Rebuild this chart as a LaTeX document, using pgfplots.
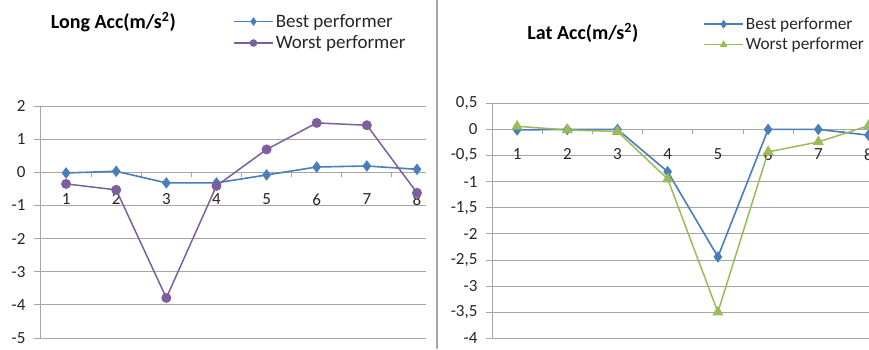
\documentclass[border=0pt]{standalone}
\usepackage{fontspec}
\setmainfont{Carlito}
\usepackage{pgfplots}
\pgfplotsset{compat=1.18}

\definecolor{bestblue}{HTML}{4A7EBB}
\definecolor{worstpurple}{HTML}{7D5FA0}
\definecolor{worstgreen}{HTML}{9BBB59}
\definecolor{gridgray}{HTML}{A6A6A6}
\definecolor{textgray}{HTML}{262626}

\pgfplotsset{
  excelpanel/.style={
    scale only axis,
    anchor=south west,
    axis y line=left,
    axis x line=middle,
    axis line style={-, draw=gridgray, line width=0.9pt},
    ymajorgrids,
    grid style={draw=gridgray, line width=0.9pt},
    xtick={1,...,8},
    minor xtick={1.5,2.5,...,7.5},
    major x tick style={draw=none},
    minor x tick style={draw=gridgray, line width=0.9pt},
    y tick style={draw=gridgray, line width=0.9pt},
    tick align=outside,
    major tick length=6pt,
    minor tick length=5pt,
    /pgf/number format/assume math mode=true,
    tick label style={font=\fontsize{17}{20}\selectfont, text=textgray},
    xticklabel style={anchor=north, yshift=-10pt},
    yticklabel style={anchor=east, xshift=-5pt},
    legend cell align=left,
    legend image code/.code={
      \draw[#1, mark=none] (0pt,0pt) -- (39pt,0pt);
      \path[#1, mark size=3pt] plot coordinates {(19.5pt,0pt)};
    },
    legend style={draw=none, fill=none, inner sep=0pt, anchor=north west,
      text=textgray, nodes={inner sep=2pt}},
    title style={font=\fontsize{20}{23}\selectfont\bfseries, text=black, anchor=center},
  },
  bestline/.style={color=bestblue, line width=1.6pt, mark=diamond*, mark size=4.5pt,
    mark options={solid}},
}

\begin{document}
\begin{tikzpicture}
\useasboundingbox (0pt,0pt) rectangle (869pt,349pt);

% longitudinal acceleration
\begin{axis}[excelpanel,
  at={(40pt,11pt)}, width=386pt, height=232pt,
  xmin=0.48, xmax=8.18, ymin=-5, ymax=2,
  ytick={-5,...,2},
  xticklabel style={yshift=-2pt},
  title={Long Acc(m/s\textsuperscript{2})},
  title style={at={(0.19,1.336)}},
  legend style={at={(0.5,1.405)}, font=\fontsize{19}{22}\selectfont, row sep=3pt},
]
\addplot[bestline] coordinates {
  (1,-0.02) (2,0.03) (3,-0.32) (4,-0.32) (5,-0.08) (6,0.16) (7,0.19) (8,0.09)};
\addlegendentry{Best performer}
\addplot[color=worstpurple, line width=1.5pt, mark=*, mark size=4.2pt] coordinates {
  (1,-0.35) (2,-0.53) (3,-3.79) (4,-0.41) (5,0.69) (6,1.49) (7,1.42) (8,-0.62)};
\addlegendentry{Worst performer}
\end{axis}

% separator between the two panels
\draw[draw=gridgray, line width=1.4pt] (437pt,0pt) -- (437pt,349pt);

% lateral acceleration
\begin{axis}[excelpanel,
  at={(492pt,10.7pt)}, width=377pt, height=235pt,
  xmin=0.5, xmax=8.01, ymin=-4, ymax=0.5,
  ytick={-4,-3.5,...,0.5},
  /pgf/number format/use comma,
  title={Lat Acc(m/s\textsuperscript{2})},
  title style={at={(0.241,1.273)}},
  legend style={at={(0.56,1.374)}, font=\fontsize{17.3}{20}\selectfont, row sep=3pt},
]
\addplot[bestline] coordinates {
  (1,-0.01) (2,0) (3,0) (4,-0.81) (5,-2.44) (6,0) (7,0) (8,-0.11)};
\addlegendentry{Best performer}
\addplot[color=worstgreen, line width=1.5pt, mark=triangle*, mark size=5pt] coordinates {
  (1,0.06) (2,-0.01) (3,-0.04) (4,-0.95) (5,-3.5) (6,-0.43) (7,-0.24) (8,0.07)};
\addlegendentry{Worst performer}
\end{axis}
\end{tikzpicture}
\end{document}
